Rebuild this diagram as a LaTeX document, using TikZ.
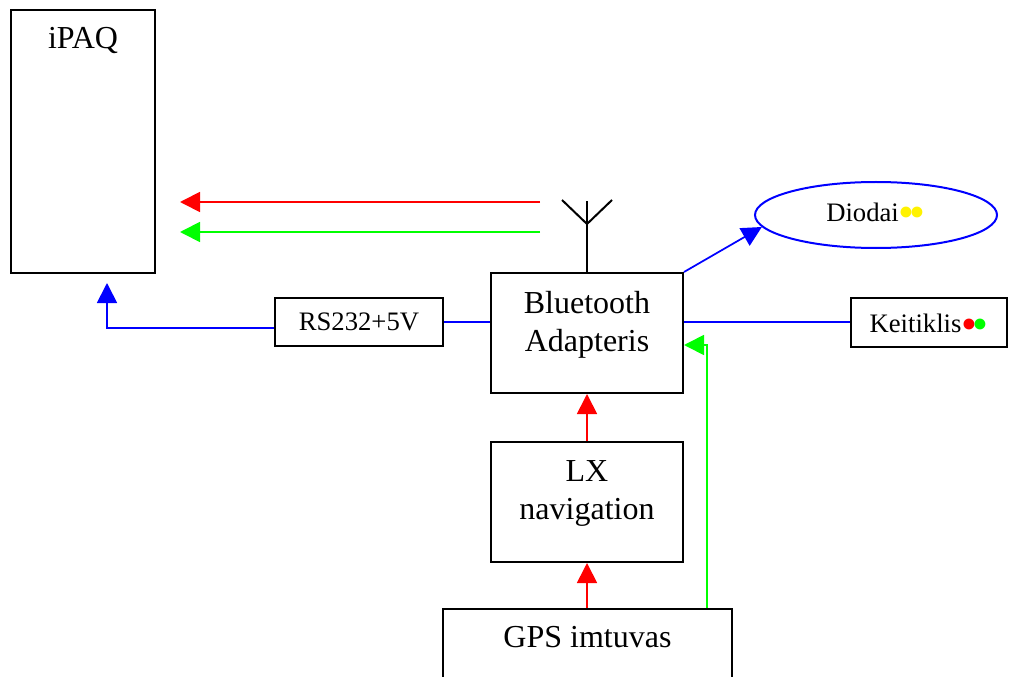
\documentclass[tikz,border=0pt]{standalone}
\usepackage{fontspec}
\setmainfont{Liberation Serif}
\usepackage{xcolor}
\usepackage{graphicx}
\usetikzlibrary{arrows.meta}
\usetikzlibrary{shapes.geometric}

\newcommand{\bigtext}{\fontsize{24}{28.8}\selectfont}
\newcommand{\smalltext}{\fontsize{20}{24}\selectfont}
\newcommand{\led}[1]{\raisebox{-0.24em}{\scalebox{1.7}{\textcolor{#1}{•}}}}

\tikzset{
    block/.style = {draw, line width=1.5pt, inner sep=0pt},
    wire/.style = {line width=1.3pt},
    tip/.style = {-{Triangle[length=15pt, width=15pt]}},
}

\begin{document}
\begin{tikzpicture}[x=0.75pt, y=-0.75pt, font=\bigtext]
        \useasboundingbox (0, 0) rectangle (1009, 677);
        \clip (0, 0) rectangle (1009, 677);

        % blocks
        \node[block, minimum width=108pt, minimum height=197.25pt,
            label={[anchor=base, yshift=-30pt]north:iPAQ}] (ipaq) at (83, 141.5) {};
        \node[block, minimum width=144pt, minimum height=90pt,
            label={[align=center, yshift=6pt]center:Bluetooth\\Adapteris}] (bt) at (587, 333) {};
        \node[block, minimum width=144pt, minimum height=90pt,
            label={[align=center, yshift=6.5pt]center:LX\\navigation}] (lx) at (587, 502) {};
        \node[block, minimum width=216.75pt, minimum height=105pt,
            label={[yshift=31.5pt]center:GPS imtuvas}] (gps) at (587.5, 679) {};
        \node[block, minimum width=126pt, minimum height=36pt, font=\smalltext] (rs) at (359, 322) {RS232+5V};
        \node[block, minimum width=117pt, minimum height=36.75pt,
            label={[font=\smalltext, yshift=-3.5pt]center:Keitiklis\led{red}\kern-0.18em\led{green}}] (keit) at (929, 322) {};
        \node[ellipse, draw=blue, line width=1.5pt, minimum width=181.5pt, minimum height=49.5pt,
            font=\smalltext] (diodai) at (876, 215) {Diodai\led{yellow}\kern-0.18em\led{yellow}};

        % antenna
        \draw[line width=1.5pt] (bt.north) -- ++(0, -71);
        \draw[line width=1.5pt] (bt.north) ++(0, -48) coordinate (ant) -- ++(-25, -24);
        \draw[line width=1.5pt] (ant) -- ++(25, -24);

        % radio links
        \coordinate (redstart) at (540, 202);
        \coordinate (redend) at (180, 202);
        \coordinate (greenstart) at (540, 232);
        \coordinate (greenend) at (180, 232);
        \draw[wire, red, tip] (redstart) -- (redend);
        \draw[wire, green, tip] (greenstart) -- (greenend);

        % wires
        \draw[wire, blue, tip] (bt.north east) -- (diodai.186);
        \draw[wire, blue] (rs.east) -- (rs.east -| bt.west);
        \draw[wire, blue] (keit.west) -- (keit.west -| bt.east);
        \draw[wire, blue, tip] ([yshift=-4.5pt]rs.west) -| ([xshift=18pt, yshift=-6.75pt]ipaq.south);
        \draw[wire, red, tip] (lx.north) -- (bt.south);
        \draw[wire, red, tip] (lx.south |- gps.north) -- (lx.south);
        \draw[wire, green, tip] ([xshift=89.6pt]gps.north) |- ([yshift=-9pt]bt.east);
\end{tikzpicture}
\end{document}
